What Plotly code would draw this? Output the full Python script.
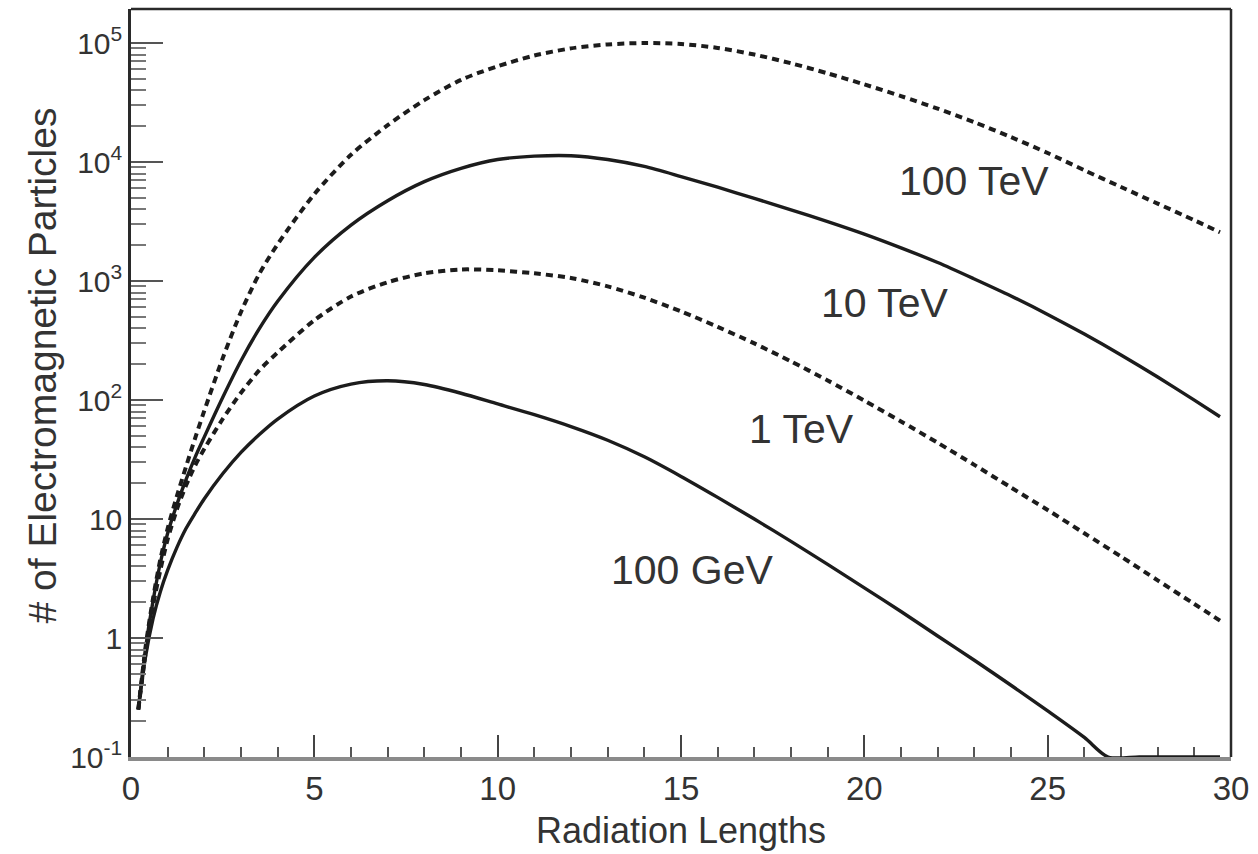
import math
import plotly.graph_objects as go

# Depth in radiation lengths
depth = [0.2, 0.4, 0.6, 0.8, 1.0, 1.25, 1.5, 1.75, 2, 2.5, 3, 3.5, 4,
         5, 6, 7, 8, 9, 10, 11, 12, 13, 14, 15, 16, 17, 18, 19, 20,
         21, 22, 23, 24, 25, 26, 27, 28, 29, 29.7]
# The 100 GeV profile reaches the 0.1 floor near 26.6 and runs flat after it
depth_100GeV = [0.2, 0.4, 0.6, 0.8, 1.0, 1.25, 1.5, 1.75, 2, 2.5, 3, 3.5, 4,
                5, 6, 7, 8, 9, 10, 11, 12, 13, 14, 15, 16, 17, 18, 19, 20,
                21, 22, 23, 24, 25, 26, 26.65, 27.5, 28.5, 29.7]

# Shower size (number of electromagnetic particles) for each primary energy
n_100TeV = [0.251, 0.851, 2.14, 4.57, 8.32, 15.5, 27.5, 47.9, 81.3, 224, 550,
            1150, 2040, 5370, 11500, 20400, 33100, 49000, 63800, 78500, 90200,
            97300, 100000, 98200, 91000, 80000, 67600, 55600, 44900, 35800,
            28100, 21600, 16200, 11900, 8530, 6170, 4470, 3240, 2570]
n_10TeV = [0.251, 0.832, 2.04, 4.27, 7.59, 13.2, 21.4, 33.1, 49.0, 105, 214,
           398, 676, 1580, 2950, 4730, 6840, 8850, 10500, 11200, 11300, 10500,
           9180, 7550, 6140, 4950, 3970, 3160, 2480, 1900, 1430, 1040, 748,
           524, 358, 239, 156, 99.8, 72.3]
n_1TeV = [0.251, 0.759, 1.86, 3.72, 6.76, 12.0, 19.1, 28.2, 38.9, 69.2, 115,
          178, 251, 468, 741, 977, 1160, 1250, 1230, 1160, 1060, 902, 724, 556,
          412, 299, 211, 146, 98.9, 66.1, 43.7, 28.5, 18.4, 11.9, 7.59, 4.84,
          3.05, 1.93, 1.40]
n_100GeV = [0.251, 0.708, 1.45, 2.45, 3.72, 5.75, 8.32, 11.2, 14.8, 24.0, 36.3,
            51.3, 69.2, 108, 136, 145, 135, 114, 92.7, 75.3, 59.8, 45.9, 33.3,
            22.8, 15.2, 10.0, 6.49, 4.16, 2.64, 1.67, 1.04, 0.650, 0.401,
            0.244, 0.146, 0.1, 0.1, 0.1, 0.1]

labels = ["100 TeV", "10 TeV", "1 TeV", "100 GeV"]
label_x = [23.0, 20.57, 18.29, 15.3]
label_y = [6900, 653, 57, 3.7]

ytick_vals = [0.1, 1, 10, 100, 1000, 10000, 100000]
ytick_text = ["10<sup>-1</sup>", "1", "10", "10<sup>2</sup>", "10<sup>3</sup>",
              "10<sup>4</sup>", "10<sup>5</sup>"]
xtick_vals = [0, 5, 10, 15, 20, 25, 30]

ink = "#1c1c1c"
text_col = "#333333"
font_family = "Liberation Sans, Arial, Helvetica, sans-serif"

fig = go.Figure()

series = [
    (depth, n_100TeV, "dash"),
    (depth, n_10TeV, "solid"),
    (depth, n_1TeV, "dash"),
    (depth_100GeV, n_100GeV, "solid"),
]
for xs, values, style in series:
    if style == "dash":
        line = dict(color=ink, width=4, dash="7px,5px", shape="spline", smoothing=0.8)
    else:
        line = dict(color=ink, width=3.4, shape="spline", smoothing=0.8)
    fig.add_trace(go.Scatter(x=xs, y=values, mode="lines", line=line,
                             showlegend=False, hoverinfo="skip"))

# Energy labels (log axes take annotation positions as log10 values)
for text, lx, ly in zip(labels, label_x, label_y):
    fig.add_annotation(x=lx, y=math.log10(ly), yref="y", xref="x", text=text,
                       showarrow=False,
                       font=dict(size=41, color=text_col, family=font_family),
                       xanchor="center", yanchor="middle")

# Vertical axis title
fig.add_annotation(x=-0.0805, y=0.524, xref="paper", yref="paper",
                   text="# of Electromagnetic Particles", textangle=-90,
                   showarrow=False, xanchor="center", yanchor="middle",
                   font=dict(size=39, color=text_col, family=font_family))

# Minor ticks at 2..9 within each decade
minor_y = [m * 10 ** d for d in range(-1, 5) for m in range(2, 10)] + [2e5]

fig.update_xaxes(
    range=[0, 30],
    tickvals=xtick_vals,
    ticks="inside", ticklen=22, tickwidth=1.5, tickcolor="#444444",
    minor=dict(dtick=1, ticks="inside", ticklen=10, tickwidth=1.5, tickcolor="#555555"),
    showline=True, linecolor="#8a8a8a", linewidth=3.5,
    showgrid=False, zeroline=False,
    layer="below traces",
    tickfont=dict(size=33, color=text_col, family=font_family),
    title=dict(text="Radiation Lengths", standoff=12,
               font=dict(size=36, color=text_col, family=font_family)),
)
fig.update_yaxes(
    type="log", range=[-1, 5.286],
    tickvals=ytick_vals, ticktext=ytick_text,
    ticks="inside", ticklen=32, tickwidth=1.5, tickcolor="#555555",
    minor=dict(tickvals=minor_y, ticks="inside", ticklen=15, tickwidth=1.5,
               tickcolor="#777777"),
    showline=True, linecolor="#2a2a2a", linewidth=2.5,
    showgrid=False, zeroline=False,
    tickfont=dict(size=30, color=text_col, family=font_family),
)

# Top and right frame edges
fig.add_shape(type="line", xref="paper", yref="paper", x0=0, x1=1, y0=1, y1=1,
              line=dict(color="#2a2a2a", width=2.5))
fig.add_shape(type="line", xref="paper", yref="paper", x0=1, x1=1, y0=0, y1=1,
              line=dict(color="#2a2a2a", width=2.5))

fig.update_layout(
    width=1258, height=854,
    margin=dict(l=131, r=21, t=9, b=97),
    paper_bgcolor="white", plot_bgcolor="white",
    font=dict(family=font_family, color=text_col),
)

fig.write_html("out.html")
